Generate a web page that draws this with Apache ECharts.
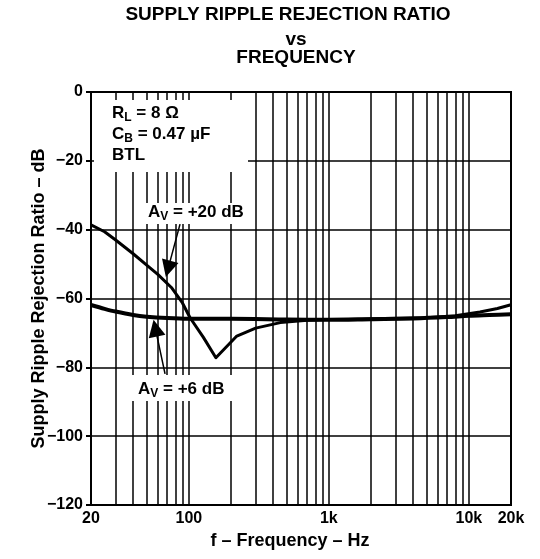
<!DOCTYPE html>
<html>
<head>
<meta charset="utf-8">
<script src="https://cdn.jsdelivr.net/npm/echarts@6/dist/echarts.min.js"></script>
<style>
html,body{margin:0;padding:0;background:#fff;}
#chart{width:540px;height:559px;}
</style>
</head>
<body>
<div id="chart"></div>
<script>
// ---- data ----
const freq20 = [20, 25, 30, 40, 50, 60, 75, 90, 102, 127, 156, 220, 300, 450, 700, 1000, 2000, 5000, 8000, 12000, 16000, 20000];
const srr20  = [-38.6, -40.6, -43.0, -47.0, -50.3, -53.0, -56.8, -61.3, -65.6, -71.3, -77.2, -70.9, -68.6, -67.0, -66.3, -66.1, -65.9, -65.6, -65.0, -63.9, -62.9, -61.8];
const freq6  = [20, 25, 30, 40, 50, 70, 100, 200, 500, 1000, 2000, 4000, 7000, 10000, 14000, 20000];
const srr6   = [-61.9, -63.0, -63.8, -64.8, -65.3, -65.7, -65.9, -65.9, -66.1, -66.2, -66.0, -65.8, -65.4, -65.0, -64.8, -64.6];
const gridFreqs = [30, 40, 50, 60, 70, 80, 90, 100, 200, 300, 400, 500, 600, 700, 800, 900, 1000,
                   2000, 3000, 4000, 5000, 6000, 7000, 8000, 9000, 10000];
const xMin = 20, xMax = 20000;
const yMin = -120, yMax = 0, yStep = 20;
// annotation arrows: [start, head] in data coordinates (Hz, dB)
const arrow20 = [[86.5, -38.4], [71.0, -51.4]];
const arrow6  = [[67.6, -81.9], [57.6, -68.6]];

const titleLines = ['SUPPLY RIPPLE REJECTION RATIO', 'vs', 'FREQUENCY'];
const xTitle = 'f \u2013 Frequency \u2013 Hz';
const yTitle = 'Supply Ripple Rejection Ratio \u2013 dB';

const FF = '"Liberation Sans", Arial, Helvetica, sans-serif';

function fmtX(v) {
  const r = Math.round(v);
  return r >= 1000 ? (r / 1000) + 'k' : String(r);
}
function fmtY(v) {
  return v < 0 ? '\u2212' + Math.abs(v) : String(v);
}

const chart = echarts.init(document.getElementById('chart'), null, {renderer: 'canvas'});

const labelRich = {
  n: {fontFamily: FF, fontWeight: 'bold', fontSize: 17, lineHeight: 21, fill: '#000'},
  s: {fontFamily: FF, fontWeight: 'bold', fontSize: 12, lineHeight: 21, verticalAlign: 'bottom', fill: '#000'}
};

const option = {
  animation: false,
  backgroundColor: '#fff',
  grid: {left: 91, right: 29, top: 92, bottom: 54, show: true, borderColor: '#000', borderWidth: 2, backgroundColor: 'transparent'},
  xAxis: {
    type: 'log', logBase: 10, min: xMin, max: xMax,
    axisLine: {show: true, lineStyle: {color: '#000', width: 2}},
    axisTick: {show: false},
    splitLine: {show: false},
    axisLabel: {color: '#000', fontFamily: FF, fontWeight: 'bold', fontSize: 16, margin: 6,
                formatter: fmtX, showMinLabel: true, showMaxLabel: true},
    name: xTitle, nameLocation: 'middle', nameGap: 26,
    nameTextStyle: {color: '#000', fontFamily: FF, fontWeight: 'bold', fontSize: 18, padding: [0, 22, 0, 0]}
  },
  yAxis: {
    type: 'value', min: yMin, max: yMax, interval: yStep,
    axisLine: {show: true, lineStyle: {color: '#000', width: 2}},
    axisTick: {show: true, inside: false, length: 5, lineStyle: {color: '#000', width: 2}},
    splitLine: {show: true, lineStyle: {color: '#000', width: 1.5}},
    axisLabel: {color: '#000', fontFamily: FF, fontWeight: 'bold', fontSize: 16, margin: 8, formatter: fmtY},
    name: yTitle, nameLocation: 'middle', nameGap: 43, nameRotate: 90, nameMoveOverlap: false,
    nameTextStyle: {color: '#000', fontFamily: FF, fontWeight: 'bold', fontSize: 18}
  },
  series: [
    {
      name: 'grid', type: 'line', data: [], silent: true, z: 1,
      markLine: {
        silent: true, symbol: 'none', animation: false,
        label: {show: false},
        lineStyle: {color: '#000', width: 1.5, type: 'solid'},
        data: gridFreqs.map(f => ({xAxis: f}))
      }
    },
    {
      name: 'AV = +6 dB', type: 'line', z: 5,
      data: freq6.map((f, i) => [f, srr6[i]]),
      showSymbol: false, smooth: 0.3,
      lineStyle: {color: '#000', width: 4}
    },
    {
      name: 'AV = +20 dB', type: 'line', z: 6,
      data: freq20.map((f, i) => [f, srr20[i]]),
      showSymbol: false, smooth: false,
      lineStyle: {color: '#000', width: 3, join: 'round'}
    },
    {
      name: 'arrows', type: 'line', data: [], silent: true, z: 7,
      markLine: {
        silent: true, animation: false,
        symbol: ['none', 'triangle'], symbolSize: 17,
        label: {show: false},
        lineStyle: {color: '#000', width: 1.5, type: 'solid'},
        itemStyle: {color: '#000'},
        data: [
          [{coord: arrow20[0]}, {coord: arrow20[1]}],
          [{coord: arrow6[0]}, {coord: arrow6[1]}]
        ]
      }
    }
  ],
  graphic: {
    elements: [
      // title
      {type: 'text', x: 288, y: 14.5, z: 100, style: {text: titleLines[0], fill: '#000', font: 'bold 19px ' + FF, textAlign: 'center', textVerticalAlign: 'middle'}},
      {type: 'text', x: 296, y: 40, z: 100, style: {text: titleLines[1], fill: '#000', font: 'bold 19px ' + FF, textAlign: 'center', textVerticalAlign: 'middle'}},
      {type: 'text', x: 296, y: 58, z: 100, style: {text: titleLines[2], fill: '#000', font: 'bold 19px ' + FF, textAlign: 'center', textVerticalAlign: 'middle'}},
      // white label boxes that interrupt the grid
      {type: 'rect', z: 100, shape: {x: 94, y: 100, width: 154, height: 72}, style: {fill: '#fff'}},
      {type: 'rect', z: 100, shape: {x: 140, y: 203, width: 110, height: 21}, style: {fill: '#fff'}},
      {type: 'rect', z: 100, shape: {x: 128, y: 375, width: 112, height: 26}, style: {fill: '#fff'}},
      // condition text
      {type: 'text', x: 112, y: 103, z: 101, style: {
        text: '{n|R}{s|L}{n| = 8 \u03A9}\n{n|C}{s|B}{n| = 0.47 \u00B5F}\n{n|BTL}',
        rich: labelRich, fill: '#000', font: 'bold 17px ' + FF, textVerticalAlign: 'top'}},
      {type: 'text', x: 148, y: 202, z: 101, style: {
        text: '{n|A}{s|V}{n| = +20 dB}', rich: labelRich, fill: '#000', font: 'bold 17px ' + FF, textVerticalAlign: 'top'}},
      {type: 'text', x: 138, y: 379, z: 101, style: {
        text: '{n|A}{s|V}{n| = +6 dB}', rich: labelRich, fill: '#000', font: 'bold 17px ' + FF, textVerticalAlign: 'top'}}
    ]
  }
};
chart.setOption(option);
</script>
</body>
</html>
